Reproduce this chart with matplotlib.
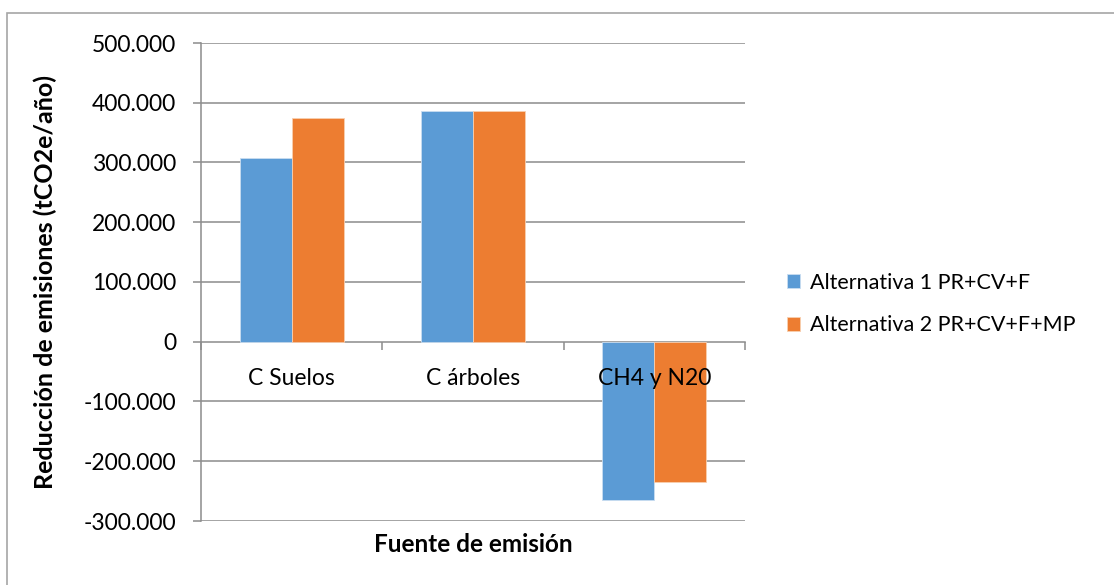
import matplotlib
matplotlib.use("Agg")
import matplotlib.pyplot as plt
from matplotlib.patches import Rectangle
from matplotlib.ticker import FuncFormatter, FixedLocator
import numpy as np

categories = ["C Suelos", "C árboles", "CH4 y N20"]
series_names = ["Alternativa 1 PR+CV+F", "Alternativa 2 PR+CV+F+MP"]
alt1 = [307500, 387000, -265000]
alt2 = [374500, 387000, -234500]
y_ticks = [-300000, -200000, -100000, 0, 100000, 200000, 300000, 400000, 500000]

blue = "#5B9BD5"
orange = "#ED7D31"
grid_gray = "#8C8C8C"

plt.rcParams["font.family"] = ["Lato", "DejaVu Sans"]

fig = plt.figure(figsize=(11.14, 5.85), dpi=100)
ax = fig.add_axes([201 / 1114, 1 - 521 / 585, 544 / 1114, 478 / 585])
ax.set_axisbelow(False)

# outer chart frame (top and left edges visible)
fig.patches.append(Rectangle((7 / 1114, -0.1), 1.2, 1 - 13 / 585 + 0.1,
                             transform=fig.transFigure, fill=False,
                             edgecolor="#A6A6A6", linewidth=1.2))

x = np.arange(len(categories))
w = 0.2875

# horizontal gridlines behind the bars
for t in y_ticks:
    if t != 0:
        ax.axhline(t, color=grid_gray, linewidth=1.1, zorder=1)

b1 = ax.bar(x - w / 2, alt1, width=w, color=blue, edgecolor="#C9DDF1",
            linewidth=0.6, label=series_names[0], zorder=2)
b2 = ax.bar(x + w / 2, alt2, width=w, color=orange, edgecolor="#F8CFB0",
            linewidth=0.6, label=series_names[1], zorder=2)

ax.set_xlim(-0.5, len(categories) - 0.5)
ax.set_ylim(min(y_ticks), max(y_ticks))
ax.set_yticks(y_ticks)
ax.yaxis.set_major_formatter(FuncFormatter(
    lambda v, p: "0" if v == 0 else f"{v:,.0f}".replace(",", ".")))
ax.tick_params(axis="y", labelsize=16.5, length=6, width=1.1, color=grid_gray,
               pad=12, labelcolor="black")

# category axis drawn at zero
ax.spines["bottom"].set_position(("data", 0))
ax.spines["bottom"].set_color(grid_gray)
ax.spines["bottom"].set_linewidth(1.1)
ax.spines["bottom"].set_zorder(1.5)
ax.spines["left"].set_color(grid_gray)
ax.spines["left"].set_linewidth(1.1)
ax.spines["top"].set_visible(False)
ax.spines["right"].set_visible(False)
ax.set_xticks(x)
ax.set_xticklabels(categories)
ax.xaxis.set_minor_locator(FixedLocator(np.arange(-0.5, len(categories), 1.0)))
ax.tick_params(axis="x", which="major", length=0, labelsize=16.5, pad=19)
ax.tick_params(axis="x", which="minor", length=6, width=1.1, color=grid_gray)

fig.text(473 / 1114, 1 - 545 / 585, "Fuente de emisión", ha="center",
         va="center", fontsize=17.5, fontweight="bold")
fig.text(45 / 1114, 1 - 282 / 585, "Reducción de emisiones (tCO2e/año)",
         ha="center", va="center", rotation=90, fontsize=18, fontweight="bold")

leg = fig.legend(handles=[b1, b2], labels=series_names, loc="center left",
                 bbox_to_anchor=(768 / 1114, 1 - 304 / 585), frameon=False,
                 fontsize=15.5, handlelength=0.6, handleheight=0.6,
                 handletextpad=0.45, labelspacing=1.05)

fig.savefig("out.png", dpi=100, facecolor="white")
